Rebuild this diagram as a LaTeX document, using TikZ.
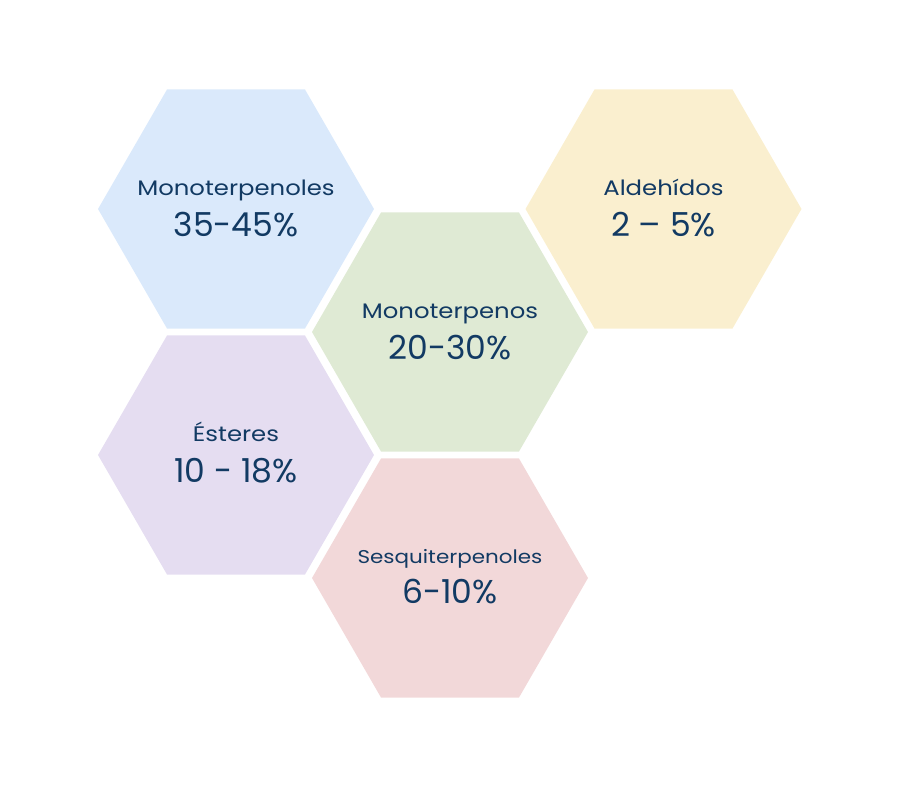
\documentclass[tikz,border=0pt]{standalone}
\usepackage{fontspec}
\setmainfont{Poppins}
\newfontfamily\widefont[FakeStretch=1.16]{Poppins}
\usetikzlibrary{shapes.geometric}
\definecolor{txt}{HTML}{123A63}
\definecolor{cblue}{HTML}{DAE9FB}
\definecolor{cyellow}{HTML}{FAEFCF}
\definecolor{cgreen}{HTML}{DFEAD4}
\definecolor{cpurple}{HTML}{E5DDF1}
\definecolor{cpink}{HTML}{F2D8D9}
\tikzset{
  hexa/.style={regular polygon, regular polygon sides=6, shape border rotate=0,
    minimum size=276pt, inner sep=0pt, draw=none},
  lab/.style={anchor=base, text=txt, font=\widefont\fontsize{21}{24}\selectfont},
  num/.style={anchor=base, text=txt, font=\fontsize{33}{38}\selectfont},
}
\begin{document}
\begin{tikzpicture}[x=1pt,y=-1pt]
\useasboundingbox (0,0) rectangle (900,788);
\node[hexa, fill=cblue] (h1) at (236,209) {};
\node[hexa, fill=cyellow] (h2) at (663.5,209) {};
\node[hexa, fill=cgreen] (h3) at (450,332) {};
\node[hexa, fill=cpurple] (h4) at (236,455) {};
\node[hexa, fill=cpink] (h5) at (450,578) {};
\node[lab] (l1) at (236,195) {Monoterpenoles};
\node[num] (n1) at (236,236) {35-45\%};
\node[lab] (l2) at (663.5,195) {Aldehídos};
\node[num] (n2) at (663.5,236) {2 – 5\%};
\node[lab] (l3) at (450,318) {Monoterpenos};
\node[num] (n3) at (450,359) {20-30\%};
\node[lab] (l4) at (236,441) {Ésteres};
\node[num] (n4) at (236,482) {10 - 18\%};
\node[lab, font=\widefont\fontsize{18.5}{22}\selectfont] (l5) at (450,563) {Sesquiterpenoles};
\node[num] (n5) at (450,603) {6-10\%};
\end{tikzpicture}
\end{document}
